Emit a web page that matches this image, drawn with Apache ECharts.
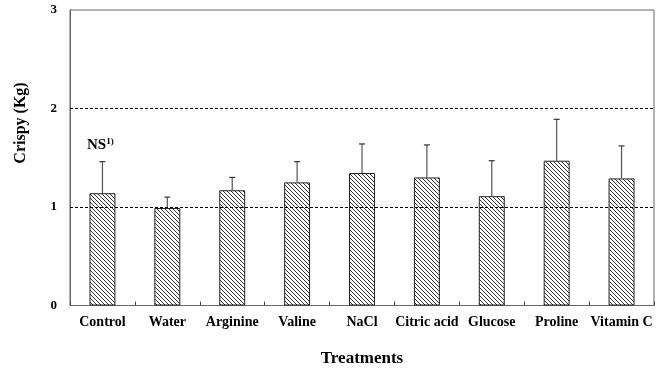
<!DOCTYPE html>
<html><head><meta charset="utf-8">
<script src="https://cdn.jsdelivr.net/npm/echarts@6/dist/echarts.min.js"></script>
<style>html,body{margin:0;padding:0;background:#fff}#c{width:663px;height:369px}</style>
</head><body><div id="c"></div>
<script>
const categories = ['Control','Water','Arginine','Valine','NaCl','Citric acid','Glucose','Proline','Vitamin C'];
const means = [1.14, 0.99, 1.17, 1.25, 1.345, 1.30, 1.11, 1.47, 1.29];
const sds = [0.32, 0.11, 0.13, 0.21, 0.295, 0.33, 0.36, 0.42, 0.33];
const yTicks = [0, 1, 2, 3];

const pc = document.createElement('canvas');
pc.width = 4; pc.height = 4;
const g = pc.getContext('2d');
g.fillStyle = '#fff'; g.fillRect(0,0,4,4);
g.strokeStyle = '#333'; g.lineWidth = 1;
g.beginPath();
g.moveTo(-1,-1); g.lineTo(5,5);
g.moveTo(-1,3); g.lineTo(1,5);
g.moveTo(3,-1); g.lineTo(5,1);
g.stroke();

const font = 'Liberation Serif';
const chart = echarts.init(document.getElementById('c'));
chart.setOption({
  animation: false,
  grid: {left: 70, right: 9, top: 10, bottom: 63.5, show: true, borderColor: '#666', borderWidth: 1,
         containLabel: false, outerBoundsMode: 'none'},
  xAxis: {
    type: 'category', data: categories,
    axisLine: {lineStyle: {color: '#666', width: 1}},
    axisTick: {show: true, inside: true, length: 4, interval: 0, lineStyle: {color: '#444'}},
    axisLabel: {interval: 0, margin: 10, color: '#000', fontFamily: font, fontWeight: 'bold', fontSize: 14},
    name: 'Treatments', nameLocation: 'middle', nameGap: 45,
    nameTextStyle: {color: '#000', fontFamily: font, fontWeight: 'bold', fontSize: 17}
  },
  yAxis: {
    type: 'value', min: yTicks[0], max: yTicks[yTicks.length-1], interval: 1,
    axisLine: {show: true, lineStyle: {color: '#666', width: 1}},
    axisTick: {show: false},
    splitLine: {show: false},
    axisLabel: {margin: 13, color: '#000', fontFamily: font, fontWeight: 'bold', fontSize: 13}
  },
  graphic: [
    {type: 'text', x: 21, y: 123, rotation: Math.PI/2, silent: true,
     style: {text: 'Crispy (Kg)', fill: '#000', font: 'bold 16px "Liberation Serif"', align: 'center', verticalAlign: 'middle'}},
    {type: 'text', x: 87, y: 137, silent: true,
     style: {text: '{a|NS}{b|1)}', rich: {
       a: {fontFamily: font, fontWeight: 'bold', fontSize: 15, fill: '#000', verticalAlign: 'bottom'},
       b: {fontFamily: font, fontWeight: 'bold', fontSize: 9, fill: '#000', verticalAlign: 'top', padding: [0,0,7,0]}
     }}}
  ],
  series: [
    {
      type: 'bar', data: means, barWidth: '40%',
      itemStyle: {color: {image: pc, repeat: 'repeat'}, borderColor: '#222', borderWidth: 1},
      markLine: {
        silent: true, symbol: 'none', label: {show: false},
        lineStyle: {color: '#000', type: [3, 2], width: 1},
        data: [{yAxis: 1}, {yAxis: 2}]
      },
      z: 2
    },
    {
      type: 'custom', z: 3,
      data: means.map((m, i) => [i, m, m + sds[i]]),
      renderItem: function (params, api) {
        const p0 = api.coord([api.value(0), api.value(1)]);
        const p1 = api.coord([api.value(0), api.value(2)]);
        return {type: 'group', children: [
          {type: 'line', shape: {x1: p0[0], y1: p0[1], x2: p1[0], y2: p1[1]}, style: {stroke: '#555', lineWidth: 1.2}},
          {type: 'line', shape: {x1: p1[0]-3, y1: p1[1], x2: p1[0]+3, y2: p1[1]}, style: {stroke: '#333', lineWidth: 1.2}}
        ]};
      }
    }
  ]
});
</script></body></html>
